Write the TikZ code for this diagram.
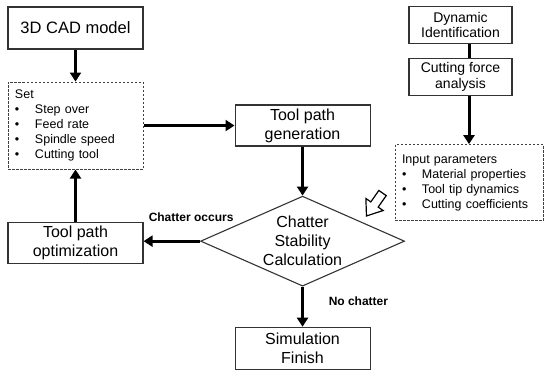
\documentclass[tikz,border=0pt]{standalone}
\usepackage{fontspec}
\setmainfont{Liberation Sans}
\usetikzlibrary{%
	positioning,
	arrows.meta,
	shapes.geometric
}
\newcommand{\bulitem}{\makebox[20pt][l]{\textbullet}}

\begin{document}
\begin{tikzpicture}[x=1pt,y=-1pt,
		SBox/.style={draw=black!80,line width=1.1pt,shape=rectangle,font=\fontsize{16}{19}\selectfont,align=center,minimum width=135pt,minimum height=41pt,inner sep=1pt},
		SSmall/.style={SBox,font=\fontsize{14}{16}\selectfont,minimum width=103pt,minimum height=37pt},
		SList/.style={draw=black!75,line width=1pt,dash pattern=on 2.5pt off 1.5pt,font=\fontsize{12.5}{15}\selectfont,align=left,inner xsep=7pt},
		SDecision/.style={draw=black!80,line width=1.1pt,shape=diamond,aspect=2.27,inner sep=0pt,minimum width=204pt,minimum height=90pt,font=\fontsize{16}{19}\selectfont,align=center},
		flow/.style={line width=3pt,-{Triangle[length=9pt,width=11pt]}},
		lbl/.style={font=\bfseries\fontsize{12}{14}\selectfont,inner sep=0pt}
	]
	\useasboundingbox (0,0) rectangle (544,371);

		\node(cad) [SBox, minimum height=42pt, font=\fontsize{16.5}{19}\selectfont] at (75.5,28) {3D CAD model};
		\node(set) [SList, text width=121pt, minimum height=87pt, below=32pt of cad] {Set\\ \bulitem Step over\\ \bulitem Feed rate\\ \bulitem Spindle speed\\ \bulitem Cutting tool};
		\node(gen) [SBox, right=91pt of set] {Tool path\\generation};
		\node(chk) [SDecision, below=49pt of gen] {Chatter\\Stability\\Calculation};
		\node(opt) [SBox, below=52pt of set] {Tool path\\optimization};
		\node(sim) [SBox, minimum height=42pt, below=40pt of chk] {Simulation\\Finish};

		\node(dyn) [SSmall] at (460.5,25) {Dynamic\\Identification};
		\node(cut) [SSmall, below=14pt of dyn] {Cutting force\\analysis};
		\node(inp) [SList, text width=134pt, minimum height=76pt, below=48pt of cut, xshift=8.5pt] {Input parameters\\ \bulitem Material properties\\ \bulitem Tool tip dynamics\\ \bulitem Cutting coefficients};

		\draw[flow] (cad) -- (set);
		\draw[flow] (set) -- (gen);
		\draw[flow] (gen) -- (chk);
		\draw[flow] (chk.west) -- (chk.west -| opt.east);
		\draw[flow] (opt) -- (set);
		\draw[flow] (chk) -- (sim);
		\draw[line width=3pt] (inp.north |- dyn.south) -- (inp.north |- cut.north);
		\draw[flow] (inp.north |- cut.south) -- (inp.north);

		\node(occurs) [lbl, above right=21pt and 5pt of opt.east] {Chatter occurs};
		\node(nochat) [lbl, below right=10pt and 26pt of chk.south] {No chatter};

		% hollow arrow towards the decision
		\draw[line width=1.2pt, line join=miter, shift={(374.5,204.5)}, rotate=235] (-14,-4.5) -- (0,-4.5) -- (0,-10.5) -- (14,0) -- (0,10.5) -- (0,4.5) -- (-14,4.5) -- cycle;

	\end{tikzpicture}
\end{document}
